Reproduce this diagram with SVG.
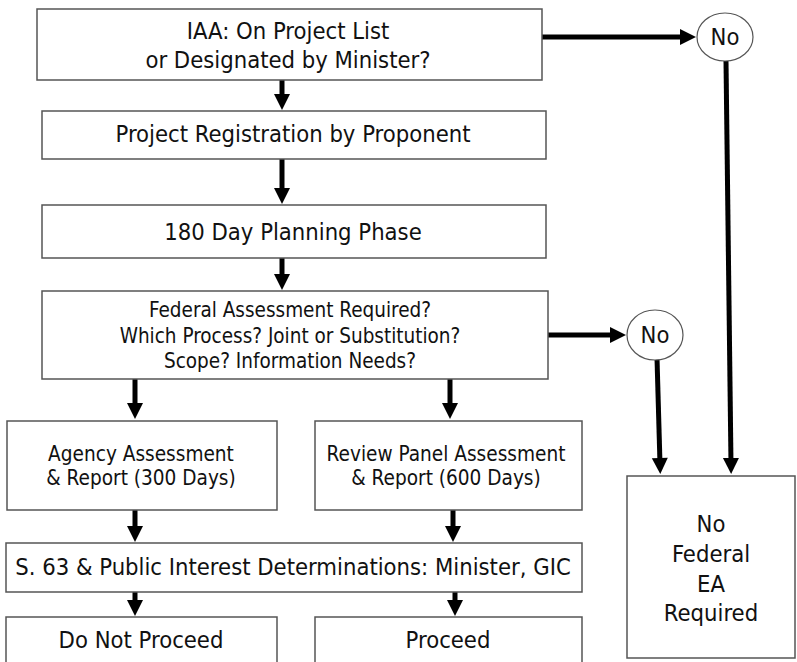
<svg xmlns="http://www.w3.org/2000/svg" width="797" height="662" viewBox="0 0 797 662">
<style>
.box{fill:#fff;stroke:#555;stroke-width:1.5}
.t{font-family:"DejaVu Sans Condensed","DejaVu Sans",sans-serif;fill:#111;text-anchor:middle}
.l{font-size:23.6px}
.m{font-size:20.6px}
.s{font-size:20.5px}
.c{stroke:#000;stroke-width:5;fill:none;marker-end:url(#ah)}
</style>
<defs>
<marker id="ah" markerWidth="4" markerHeight="4" refX="1.2" refY="2" orient="auto" markerUnits="strokeWidth" viewBox="0 0 3.2 4">
<path d="M0,0.4 L3.2,2 L0,3.6 z" fill="#000"/>
</marker>
</defs>
<rect width="797" height="662" fill="#fff"/>
<g id="connectors">
<line class="c" x1="282" y1="80" x2="282" y2="100"/>
<line class="c" x1="282" y1="159" x2="282" y2="194"/>
<line class="c" x1="282" y1="258" x2="282" y2="280"/>
<line class="c" x1="542" y1="37" x2="686" y2="37"/>
<line class="c" x1="548" y1="335" x2="616" y2="335"/>
<line class="c" x1="726" y1="61" x2="731" y2="464"/>
<line class="c" x1="657" y1="358" x2="660" y2="464"/>
<line class="c" x1="135" y1="379" x2="135" y2="409"/>
<line class="c" x1="450" y1="379" x2="450" y2="409"/>
<line class="c" x1="135" y1="510" x2="135" y2="532"/>
<line class="c" x1="453" y1="510" x2="453" y2="532"/>
<line class="c" x1="135" y1="592" x2="135" y2="606"/>
<line class="c" x1="455" y1="592" x2="455" y2="606"/>
</g>
<g id="n1"><rect class="box" x="37" y="9" width="505" height="71"/>
<text class="t l" x="288" y="39">IAA: On Project List</text>
<text class="t l" x="288" y="68">or Designated by Minister?</text></g>
<g id="n2"><rect class="box" x="42" y="111" width="504" height="48"/>
<text class="t l" x="293" y="142">Project Registration by Proponent</text></g>
<g id="n3"><rect class="box" x="42" y="205" width="504" height="53"/>
<text class="t l" x="293" y="240">180 Day Planning Phase</text></g>
<g id="n4"><rect class="box" x="42" y="291" width="506" height="88"/>
<text class="t s" x="290" y="317">Federal Assessment Required?</text>
<text class="t s" x="290" y="343">Which Process? Joint or Substitution?</text>
<text class="t s" x="290" y="368">Scope? Information Needs?</text></g>
<g id="no1"><ellipse cx="725" cy="37" rx="28" ry="24" fill="#fff" stroke="#555" stroke-width="1.2"/>
<text class="t l" x="725" y="45">No</text></g>
<g id="no2"><ellipse cx="655" cy="335" rx="28" ry="25" fill="#fff" stroke="#555" stroke-width="1.2"/>
<text class="t l" x="655" y="343">No</text></g>
<g id="nofed"><rect class="box" x="627" y="476" width="168" height="182"/>
<text class="t l" x="711" y="532">No</text>
<text class="t l" x="711" y="562">Federal</text>
<text class="t l" x="711" y="592">EA</text>
<text class="t l" x="711" y="621">Required</text></g>
<g id="agency"><rect class="box" x="7" y="421" width="270" height="89"/>
<text class="t m" x="141" y="461">Agency Assessment</text>
<text class="t m" x="141" y="485">&amp; Report (300 Days)</text></g>
<g id="review"><rect class="box" x="315" y="421" width="267" height="89"/>
<text class="t m" x="446" y="461">Review Panel Assessment</text>
<text class="t m" x="446" y="485">&amp; Report (600 Days)</text></g>
<g id="s63"><rect class="box" x="6" y="543" width="576" height="49"/>
<text class="t l" x="293" y="575">S. 63 &amp; Public Interest Determinations: Minister, GIC</text></g>
<g id="dnp"><rect class="box" x="6" y="617" width="271" height="60"/>
<text class="t l" x="141" y="648">Do Not Proceed</text></g>
<g id="proceed"><rect class="box" x="315" y="617" width="267" height="60"/>
<text class="t l" x="448" y="648">Proceed</text></g>
</svg>
